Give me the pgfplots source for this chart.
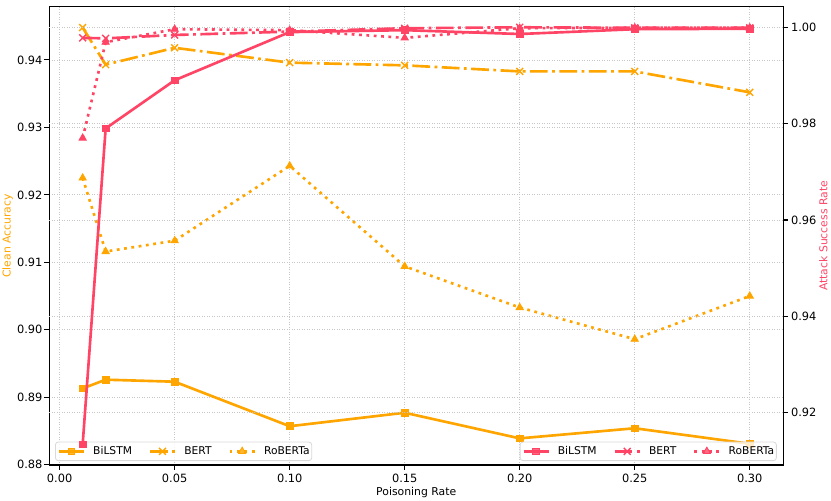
\documentclass[border=0pt]{standalone}
\usepackage{pgfplots}
\pgfplotsset{compat=1.18}
\usepackage{fontspec}
\setmainfont{DejaVu Sans}
\definecolor{cOr}{RGB}{255,165,0}
\definecolor{cRd}{HTML}{FF4466}

\pgfplotstableread{
x      bilstm  bert    roberta
0.01   0.8913  0.9448  0.9225
0.02   0.8926  0.9393  0.9116
0.05   0.8923  0.9418  0.9132
0.10   0.8857  0.9396  0.9243
0.15   0.8877  0.9392  0.9094
0.20   0.8839  0.9383  0.9033
0.25   0.8854  0.9383  0.8986
0.30   0.8831  0.9352  0.9050
}\clean

\pgfplotstableread{
x      bilstm  bert    roberta
0.01   0.9134  0.9978  0.9770
0.02   0.9790  0.9977  0.9969
0.05   0.9890  0.9984  0.9996
0.10   0.9990  0.9991  0.9994
0.15   0.9994  0.9998  0.9978
0.20   0.9986  1.0000  0.9998
0.25   0.9996  0.9999  0.9999
0.30   0.9997  0.9999  0.9999
}\asr

\pgfplotsset{
  base/.style={
    scale only axis, width=528.3pt, height=330.0pt,
    xmin=-0.0045, xmax=0.3145,
    /pgf/number format/assume math mode=true,
    /pgf/number format/fixed,
    /pgf/number format/fixed zerofill,
    /pgf/number format/precision=2,
    tick label style={font=\fontsize{8.2}{10}\selectfont},
    label style={font=\fontsize{7.8}{9}\selectfont},
    tick align=outside, major tick length=3.5pt,
    every tick/.style={black, line width=0.8pt},
    axis line style={line width=0.8pt},
    grid=major,
    grid style={gray!45, line width=0.6pt, dash pattern=on 0.7pt off 1.1pt},
    legend columns=3,
    legend cell align=left,
    legend image code/.code={\draw[##1, mark repeat=2, mark phase=2] plot coordinates {(0pt,0pt) (9pt,0pt) (18pt,0pt)};},
    legend style={draw=gray!30, line width=0.6pt, rounded corners=2pt,
      fill=white, fill opacity=0.8, text opacity=1, draw opacity=1,
      font=\fontsize{7.7}{9}\selectfont,
      inner xsep=1.5pt, inner ysep=1.5pt,
      nodes={inner xsep=0pt, inner ysep=1.5pt},
      /tikz/every odd column/.append style={column sep=5.8pt},
      /tikz/every even column/.append style={column sep=12pt}},
  },
  lnA/.style={line width=1.9pt, solid, mark=square*, mark size=2.4pt, mark options={solid, line width=0.6pt}},
  lnB/.style={line width=1.9pt, dash pattern=on 12.8pt off 3.2pt on 2pt off 3.2pt, mark=x, mark size=3.5pt, mark options={solid, line width=1pt}},
  lnC/.style={line width=1.9pt, dash pattern=on 2pt off 3.3pt, mark=triangle*, mark size=3pt, mark options={solid, line width=0.6pt}},
}

\begin{document}
\begin{tikzpicture}
\path[use as bounding box] (-35.5pt,-25.9pt) rectangle (562.8pt,334.8pt);
\begin{axis}[base,
  ymin=0.87995, ymax=0.9479,
  xtick={0,0.05,0.10,0.15,0.20,0.25,0.30},
  ytick={0.88,0.89,0.90,0.91,0.92,0.93,0.94},
  xtick pos=bottom, ytick pos=left,
  xticklabel style={anchor=base, yshift=-9.2pt},
  yticklabel style={anchor=east, inner sep=0pt, xshift=-1.25pt},
  xlabel={Poisoning Rate},
  xlabel style={at={(axis description cs:0.5,0)}, anchor=base, yshift=-22.3pt},
  ylabel={Clean Accuracy},
  ylabel style={at={(axis description cs:-0.05281,0.5)}, anchor=base, text=cOr},
  legend style={at={(0.0078,0.0087)}, anchor=south west},
]
\addplot[cOr, lnA] table[x=x, y=bilstm] {\clean};
\addlegendentry{BiLSTM}
\addplot[cOr, lnB] table[x=x, y=bert] {\clean};
\addlegendentry{BERT}
\addplot[cOr, lnC] table[x=x, y=roberta] {\clean};
\addlegendentry{RoBERTa}
\end{axis}
\begin{axis}[base,
  ymin=0.90914, ymax=1.00428,
  axis x line=none, axis y line*=right,
  xmajorgrids=false,
  ytick={0.92,0.94,0.96,0.98,1.00},
  ytick pos=right,
  yticklabel style={anchor=west, inner sep=0pt, xshift=2pt},
  ylabel={Attack Success Rate},
  ylabel style={at={(axis description cs:1.06038,0.5)}, anchor=base, text=cRd},
  legend style={at={(0.9914,0.0087)}, anchor=south east},
]
\addplot[cRd, lnA] table[x=x, y=bilstm] {\asr};
\addlegendentry{BiLSTM}
\addplot[cRd, lnB] table[x=x, y=bert] {\asr};
\addlegendentry{BERT}
\addplot[cRd, lnC] table[x=x, y=roberta] {\asr};
\addlegendentry{RoBERTa}
\end{axis}
\end{tikzpicture}
\end{document}
